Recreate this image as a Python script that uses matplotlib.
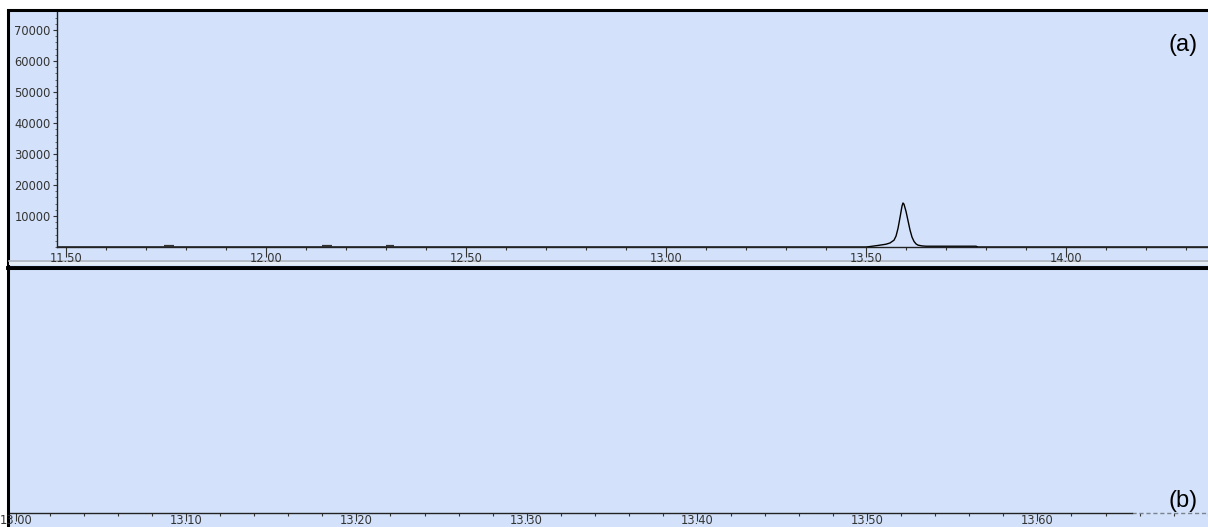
import matplotlib
matplotlib.use("Agg")
import matplotlib.pyplot as plt
from matplotlib.patches import Rectangle
from matplotlib.lines import Line2D
from matplotlib.ticker import MultipleLocator, FixedLocator

BG = "#D3E2FA"

# retention time (min) and abundance of the trace around the 13.59 min peak
peak_time = [11.40, 13.500, 13.510, 13.530, 13.550, 13.560, 13.570, 13.575, 13.580,
             13.585, 13.590, 13.5925, 13.595, 13.600, 13.605, 13.610, 13.615,
             13.620, 13.625, 13.630, 13.640, 13.650, 13.700, 13.775, 13.780, 14.40]
peak_abund = [0, 0, 150, 500, 900, 1300, 2200, 3500, 6000,
              9500, 13200, 14200, 13800, 11500, 8500, 5500, 3200,
              1800, 1000, 600, 350, 250, 250, 250, 0, 0]

# small blips on the baseline
blip_start = [11.745, 12.140, 12.300]
blip_end = [11.770, 12.165, 12.320]
blip_abund = [350, 350, 350]

top_xticks = [11.50, 12.00, 12.50, 13.00, 13.50, 14.00]
top_yticks = [10000, 20000, 30000, 40000, 50000, 60000, 70000]
bottom_xticks = [13.00, 13.10, 13.20, 13.30, 13.40, 13.50, 13.60]

W, H = 1208, 527
fig = plt.figure(figsize=(W / 100, H / 100), dpi=100)
fig.patch.set_facecolor("white")


def fx(px):
    return px / W


def fy(py):
    return 1 - py / H


# panel frames
fig.patches.append(Rectangle((fx(8), fy(268)), fx(1210 - 8), (268 - 10) / H,
                             transform=fig.transFigure, facecolor=BG,
                             edgecolor="black", lw=2.2, zorder=0))
fig.patches.append(Rectangle((fx(8), fy(540)), fx(1210 - 8), (540 - 268) / H,
                             transform=fig.transFigure, facecolor=BG,
                             edgecolor="black", lw=2.2, zorder=0))
fig.patches.append(Rectangle((fx(9), fy(265)), fx(1210 - 9), 5 / H,
                             transform=fig.transFigure, facecolor="#e6ecf4",
                             edgecolor="none", zorder=1))
fig.lines.append(Line2D([fx(9), 1], [fy(260.5), fy(260.5)], transform=fig.transFigure,
                        color="#aab2bf", lw=1.2, zorder=2))
fig.lines.append(Line2D([fx(8), 1], [fy(268), fy(268)], transform=fig.transFigure,
                        color="black", lw=2.8, zorder=3))

tick_font = dict(fontsize=8.3, color="#333333", family="DejaVu Sans")

# top: full chromatogram
ax1 = fig.add_axes([fx(57), fy(247), fx(1208 - 57), (247 - 12) / H])
ax1.set_zorder(5)
ax1.set_facecolor("none")
ax1.plot(peak_time, peak_abund, color="black", lw=1.0)
for s, e, a in zip(blip_start, blip_end, blip_abund):
    ax1.plot([s, e], [a, a], color="#333333", lw=1.6, solid_capstyle="butt")
ax1.set_xlim(11.4775, 14.355)
ax1.set_ylim(0, 75800)
ax1.spines["top"].set_visible(False)
ax1.spines["right"].set_visible(False)
for sp in ("left", "bottom"):
    ax1.spines[sp].set_linewidth(1.0)
    ax1.spines[sp].set_color("#222222")
ax1.xaxis.set_major_locator(FixedLocator(top_xticks))
ax1.xaxis.set_minor_locator(MultipleLocator(0.1))
ax1.yaxis.set_major_locator(FixedLocator(top_yticks))
ax1.yaxis.set_minor_locator(MultipleLocator(2000))
ax1.set_xticklabels(["%.2f" % t for t in top_xticks], **tick_font)
ax1.set_yticklabels(["%d" % v for v in top_yticks], **tick_font)
ax1.tick_params(axis="x", which="major", direction="out", length=7, width=0.8,
                pad=-3.5, color="#333333")
ax1.tick_params(axis="x", which="minor", direction="out", length=2.5, width=0.8,
                color="#333333")
ax1.tick_params(axis="y", which="major", direction="out", length=3, width=0.8,
                pad=1.5, color="#333333")
ax1.tick_params(axis="y", which="minor", direction="out", length=1.2, width=0.6,
                color="#555555")

# bottom: zoomed time window
ax2 = fig.add_axes([fx(10), fy(513), fx(1208 - 10), (513 - 271) / H])
ax2.set_zorder(5)
ax2.set_facecolor("none")
ax2.set_xlim(12.9965, 13.7002)
ax2.set_ylim(0, 1)
for sp in ("top", "right", "left"):
    ax2.spines[sp].set_visible(False)
ax2.spines["bottom"].set_color("#222222")
ax2.spines["bottom"].set_linewidth(1.0)
ax2.spines["bottom"].set_bounds(12.9965, 13.6557)
ax2.plot([13.6557, 13.7002], [0, 0], color="#7a8290", lw=1.0, ls=(0, (3, 2)),
         clip_on=False)
ax2.set_yticks([])
ax2.xaxis.set_major_locator(FixedLocator(bottom_xticks))
ax2.xaxis.set_minor_locator(MultipleLocator(0.02))
ax2.set_xticklabels(["%.2f" % t for t in bottom_xticks], **tick_font)
ax2.tick_params(axis="x", which="major", direction="out", length=6, width=0.8,
                pad=-5, color="#333333")
ax2.tick_params(axis="x", which="minor", direction="out", length=2.5, width=0.8,
                color="#333333")

fig.text(fx(1183), fy(45), "(a)", fontsize=17, family="Liberation Sans",
         ha="center", va="center", zorder=6)
fig.text(fx(1183), fy(501), "(b)", fontsize=17, family="Liberation Sans",
         ha="center", va="center", zorder=6)

fig.savefig("out.png", dpi=100, facecolor="white")
